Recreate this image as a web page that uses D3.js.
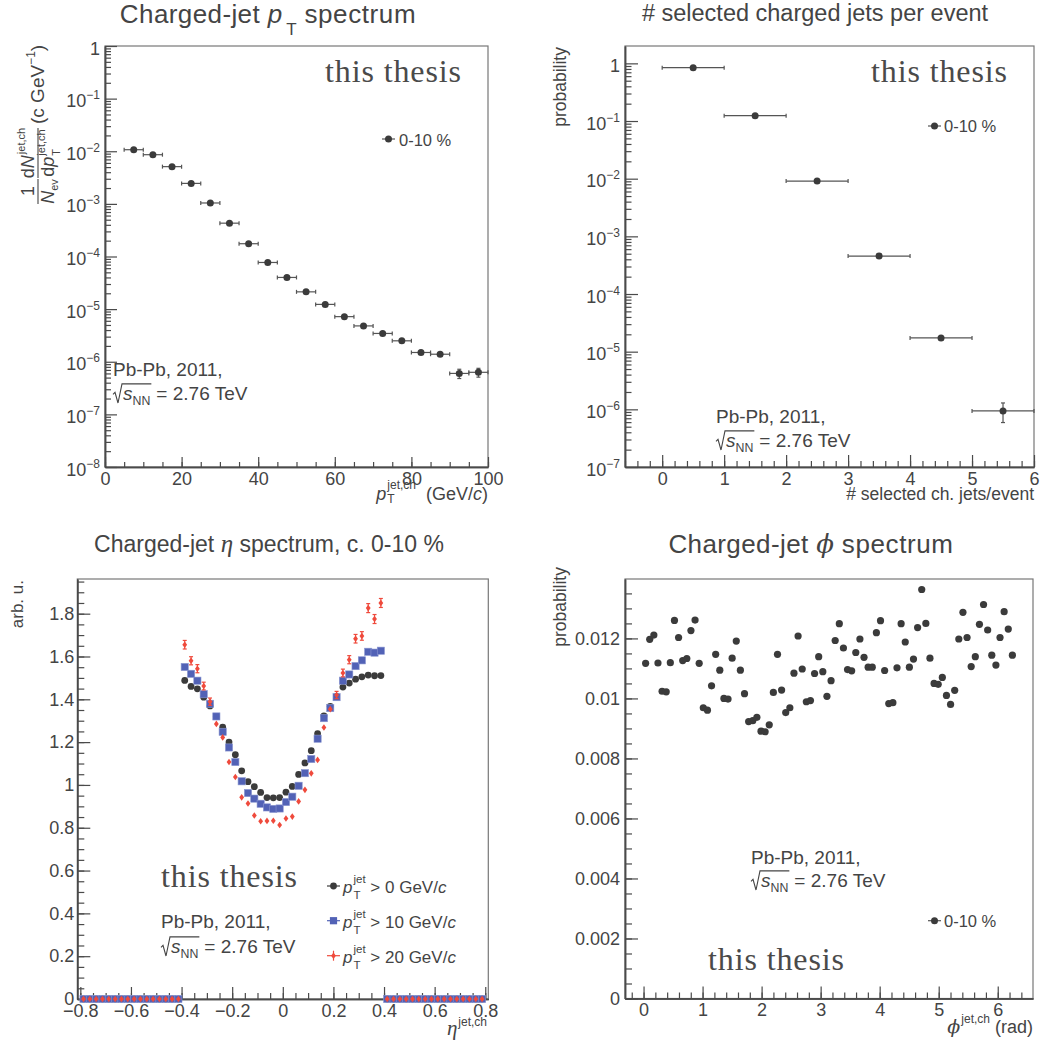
<!DOCTYPE html>
<html><head><meta charset="utf-8">
<script src="https://cdn.jsdelivr.net/npm/d3@7"></script>
<style>
body{margin:0;background:#fff;}
svg text{font-family:"Liberation Sans",Arial,sans-serif;fill:#444;white-space:pre;}
</style></head><body>
<svg id="c" width="1045" height="1045"></svg>
<script>
// ---------------- DATA ----------------
// Panel 1: charged-jet pT spectrum (0-10 %)
const ptBinCenters = [7.5,12.5,17.5,22.5,27.5,32.5,37.5,42.5,47.5,52.5,57.5,62.5,67.5,72.5,77.5,82.5,87.5,92.5,97.5];
const ptBinHalfWidth = 2.5;
const ptValues = [1.07e-2,8.6e-3,5.1e-3,2.45e-3,1.04e-3,4.3e-4,1.75e-4,7.7e-5,4.0e-5,2.13e-5,1.23e-5,7.2e-6,4.8e-6,3.45e-6,2.5e-6,1.5e-6,1.39e-6,6.0e-7,6.3e-7];
const ptErrors = [1e-4,8e-5,5e-5,3e-5,1.5e-5,7e-6,3.5e-6,1.8e-6,1.1e-6,7e-7,5e-7,3.6e-7,2.9e-7,2.4e-7,2e-7,1.6e-7,1.5e-7,1.2e-7,1.2e-7];

// Panel 2: number of selected charged jets per event
const nJetCenters = [0.5,1.5,2.5,3.5,4.5,5.5];
const nJetHalfWidth = 0.5;
const nJetProb = [0.84,0.124,9.1e-3,4.55e-4,1.73e-5,9.4e-7];
const nJetErrors = [2e-4,8e-5,2e-5,4e-6,7e-7,3.5e-7];

// Panel 3: charged-jet eta spectrum, 64 bins of 0.025 from -0.8 to 0.8
const etaLow = -0.8, etaBinWidth = 0.025;
const etaPt0 = [0,0,0,0,0,0,0,0,0,0,0,0,0,0,0,0,
 1.488,1.460,1.449,1.410,1.369,1.320,1.270,1.200,1.141,1.066,1.015,0.992,0.965,0.941,0.940,0.941,
 0.966,0.993,1.049,1.103,1.160,1.239,1.323,1.367,1.413,1.457,1.476,1.494,1.505,1.513,1.510,1.511,
 0,0,0,0,0,0,0,0,0,0,0,0,0,0,0,0];
const etaPt10 = [0,0,0,0,0,0,0,0,0,0,0,0,0,0,0,0,
 1.551,1.519,1.487,1.424,1.379,1.320,1.248,1.175,1.107,1.017,0.962,0.936,0.912,0.895,0.888,0.890,
 0.920,0.945,0.996,1.055,1.121,1.216,1.312,1.359,1.410,1.487,1.516,1.555,1.582,1.622,1.618,1.627,
 0,0,0,0,0,0,0,0,0,0,0,0,0,0,0,0];
const etaPt20 = [0,0,0,0,0,0,0,0,0,0,0,0,0,0,0,0,
 1.655,1.580,1.543,1.462,1.389,1.285,1.222,1.107,1.037,0.942,0.913,0.857,0.830,0.832,0.833,0.813,
 0.843,0.852,0.923,0.977,1.054,1.117,1.268,1.354,1.420,1.523,1.585,1.683,1.696,1.826,1.775,1.850,
 0,0,0,0,0,0,0,0,0,0,0,0,0,0,0,0];
const etaPt20Err = [0,0,0,0,0,0,0,0,0,0,0,0,0,0,0,0,
 0.020,0.019,0.019,0.018,0.017,0.016,0.015,0.014,0.013,0.012,0.012,0.011,0.011,0.011,0.011,0.011,
 0.011,0.011,0.012,0.012,0.013,0.014,0.015,0.016,0.017,0.018,0.019,0.020,0.020,0.021,0.021,0.021,
 0,0,0,0,0,0,0,0,0,0,0,0,0,0,0,0];
const etaLegend = ["0","10","20"];

// Panel 4: charged-jet phi spectrum, 90 bins over 2*pi
const phiNBins = 90;
const phiProb = [0.01117,0.01197,0.01211,0.01118,0.01024,0.01022,0.01119,0.01260,0.01203,0.01126,
 0.01133,0.01226,0.01261,0.01117,0.00969,0.00961,0.01042,0.01147,0.01094,0.01000,
 0.00998,0.01134,0.01191,0.01094,0.01016,0.00923,0.00926,0.00937,0.00891,0.00889,
 0.00912,0.01020,0.01147,0.01028,0.00953,0.00969,0.01084,0.01208,0.01098,0.00989,
 0.00993,0.01083,0.01139,0.01089,0.01007,0.01059,0.01193,0.01249,0.01168,0.01096,
 0.01092,0.01153,0.01198,0.01137,0.01104,0.01104,0.01219,0.01259,0.01093,0.00983,
 0.00986,0.01102,0.01249,0.01188,0.01104,0.01131,0.01236,0.01363,0.01250,0.01134,
 0.01050,0.01047,0.01070,0.01010,0.00980,0.01027,0.01198,0.01287,0.01203,0.01106,
 0.01139,0.01247,0.01313,0.01228,0.01144,0.01111,0.01203,0.01289,0.01231,0.01144];

// ---------------- DRAWING ----------------
const svg = d3.select('#c');
const TXT = '#444', AX = '#4a4a4a', MK = '#3b3b3b', BLUE = '#5262b6', RED = '#ef4a3c';

function rich(parent, x, y, parts, anchor){
  const g = parent.append('g');
  let cx = 0, lastStart = 0;
  for (const p of parts){
    const t = g.append('text').attr('y', p.dy||0).style('font-size', (p.size||18)+'px').text(p.t);
    if (p.italic) t.style('font-style','italic');
    if (p.family) t.style('font-family', p.family);
    if (p.ls) t.style('letter-spacing', p.ls+'px');
    const sx = (p.stack ? lastStart : cx) + (p.dx||0);
    t.attr('x', sx);
    const w = t.node().getComputedTextLength();
    if (p.stack) cx = Math.max(cx, sx + w); else { lastStart = sx; cx = sx + w; }
  }
  const off = anchor==='end' ? -cx : anchor==='middle' ? -cx/2 : 0;
  g.attr('transform', `translate(${x+off},${y})`);
  return g;
}
function styleAxis(sel, fs){
  sel.attr('font-family', null).attr('font-size', null);
  sel.select('.domain').attr('stroke', AX).attr('stroke-width', 1.5);
  sel.selectAll('.tick line').attr('stroke', AX).attr('stroke-width', 1.2);
  sel.selectAll('.tick text').style('font-size', (fs||18)+'px');
}
function frame(x0,y0,x1,y1){
  svg.append('rect').attr('x',x0).attr('y',y0).attr('width',x1-x0).attr('height',y1-y0)
    .attr('fill','none').attr('stroke','#777').attr('stroke-width',1.2);
}
function axisPair(axisFn, scale, pos, majors, minors, majLen, minLen, fmt, pad){
  const isLeft = axisFn === d3.axisLeft;
  const tr = isLeft ? `translate(${pos},0)` : `translate(0,${pos})`;
  svg.append('g').attr('transform', tr)
    .call(axisFn(scale).tickValues(minors).tickSizeInner(-minLen).tickSizeOuter(0).tickFormat(''))
    .call(styleAxis);
  const g = svg.append('g').attr('transform', tr)
    .call(axisFn(scale).tickValues(majors).tickSizeInner(-majLen).tickSizeOuter(0).tickPadding(pad).tickFormat(fmt))
    .call(styleAxis);
  return g;
}
function logLabels(g){
  g.selectAll('.tick text').each(function(d){
    const k = Math.round(Math.log10(d));
    const t = d3.select(this).text(null).attr('dy','0.45em');
    if (k === 0) { t.text('1'); return; }
    t.append('tspan').text('10');
    t.append('tspan').attr('dy', -8).style('font-size','12px').text('\u2212' + (-k));
  });
}
function thesis(xRight, yBase){
  svg.append('text').attr('x', xRight-136).attr('y', yBase)
    .attr('textLength', 136).attr('lengthAdjust','spacing')
    .style('font-family','"Liberation Serif","Times New Roman",serif')
    .style('font-size','32px').style('fill','#4a4a4a').text('this thesis');
}
function collision(x, yb1, yb2, fs){
  svg.append('text').attr('x', x).attr('y', yb1).style('font-size', fs+'px').text('Pb-Pb, 2011,');
  const sx = x + 10;
  const s = svg.append('text').attr('x', sx).attr('y', yb2).style('font-size', fs+'px');
  s.append('tspan').style('font-style','italic').text('s');
  s.append('tspan').attr('dy', 5).style('font-size', (fs*0.65)+'px').text('NN');
  const w = s.node().getComputedTextLength();
  const top = yb2 - fs*0.85;
  svg.append('path')
    .attr('d', `M${x},${yb2-fs*0.3} L${x+2},${yb2-fs*0.4} L${x+5},${yb2+3} L${x+9},${top} L${sx+w+1},${top}`)
    .attr('fill','none').attr('stroke', TXT).attr('stroke-width', 1.1);
  svg.append('text').attr('x', sx+w+6).attr('y', yb2).style('font-size', fs+'px').text('= 2.76 TeV');
}
function errbars(g, pts, color){
  const cap = 2;
  pts.forEach(p => {
    if (p.x0 !== undefined){
      g.append('line').attr('x1',p.x0).attr('x2',p.x1).attr('y1',p.y).attr('y2',p.y);
      g.append('line').attr('x1',p.x0).attr('x2',p.x0).attr('y1',p.y-cap).attr('y2',p.y+cap);
      g.append('line').attr('x1',p.x1).attr('x2',p.x1).attr('y1',p.y-cap).attr('y2',p.y+cap);
    }
    if (p.y0 !== undefined && Math.abs(p.y0-p.y1) > 7){
      g.append('line').attr('x1',p.x).attr('x2',p.x).attr('y1',p.y0).attr('y2',p.y1);
      g.append('line').attr('x1',p.x-cap).attr('x2',p.x+cap).attr('y1',p.y0).attr('y2',p.y0);
      g.append('line').attr('x1',p.x-cap).attr('x2',p.x+cap).attr('y1',p.y1).attr('y2',p.y1);
    }
  });
  g.attr('stroke', color).attr('stroke-width', 1.2);
}
const lg = (a,b)=>{const out=[];for(let k=a;k<b;k++)for(let m=2;m<=9;m++)out.push(m*Math.pow(10,k));return out;};

// ===== Panel 1 =====
{
  const x = d3.scaleLinear().domain([0,100]).range([105,488]);
  const y = d3.scaleLog().domain([1e-8,1]).range([467,46]);
  frame(105,46,488,467);
  axisPair(d3.axisBottom, x, 467, d3.range(0,101,20), d3.range(0,101,5), 10, 5, d3.format('d'), 5);
  const ya = axisPair(d3.axisLeft, y, 105, d3.range(-8,1).map(k=>Math.pow(10,k)), lg(-8,0), 12, 6, d=>d, 5);
  logLabels(ya);
  errbars(svg.append('g'), ptBinCenters.map((c,i)=>({x0:x(c-ptBinHalfWidth),x1:x(c+ptBinHalfWidth),x:x(c),y:y(ptValues[i]),
     y0:y(ptValues[i]-ptErrors[i]),y1:y(ptValues[i]+ptErrors[i])})), '#555');
  svg.append('g').selectAll('circle').data(ptBinCenters).join('circle')
    .attr('cx',d=>x(d)).attr('cy',(d,i)=>y(ptValues[i])).attr('r',3.5).attr('fill',MK);
  rich(svg, 268, 23, [{t:'Charged-jet ',size:26,ls:0.4},{t:'p',size:26,italic:true},{t:'T',size:17,dy:12,dx:4},{t:' spectrum',size:26,ls:0.6}], 'middle');
  rich(svg, 488, 500, [{t:'p',italic:true},{t:'jet,ch',size:12,dy:-11,dx:1},{t:'T',size:12,dy:3,stack:true},{t:'  (GeV/'},{t:'c',italic:true},{t:')'}], 'end');
  // y title
  const yt = svg.append('g').attr('transform','translate(38,240) rotate(-90)');
  yt.append('text').attr('x',49).attr('y',-4).attr('text-anchor','middle').style('font-size','18px').text('1');
  yt.append('line').attr('x1',36).attr('x2',61).attr('y1',0).attr('y2',0).attr('stroke',TXT).attr('stroke-width',1.1);
  rich(yt, 48.5, 16, [{t:'N',italic:true,size:18},{t:'ev',size:11,dy:4}], 'middle');
  rich(yt, 87, -4, [{t:'d'},{t:'N',italic:true},{t:'jet,ch',size:11,dy:-9,dx:1}], 'middle');
  yt.append('line').attr('x1',62).attr('x2',112).attr('y1',0).attr('y2',0).attr('stroke',TXT).attr('stroke-width',1.1);
  rich(yt, 87, 16, [{t:'d'},{t:'p',italic:true},{t:'jet,ch',size:11,dy:-9,dx:1},{t:'T',size:11,dy:6,stack:true}], 'middle');
  rich(yt, 116, 6, [{t:'(c GeV',size:19},{t:'\u22121',size:12,dy:-9},{t:')',size:19}], 'start');
  // legend
  svg.append('line').attr('x1',382).attr('x2',395).attr('y1',139).attr('y2',139).attr('stroke','#555').attr('stroke-width',1.2);
  svg.append('circle').attr('cx',388.5).attr('cy',139).attr('r',3.5).attr('fill',MK);
  svg.append('text').attr('x',399).attr('y',145.5).style('font-size','16.5px').text('0-10 %');
  thesis(461, 82);
  collision(113, 376, 400, 19);
}

// ===== Panel 2 =====
{
  const x = d3.scaleLinear().domain([-0.6,6]).range([625,1034]);
  const y = d3.scaleLog().domain([1e-7,2]).range([467,46]);
  frame(625,46,1034,467);
  axisPair(d3.axisBottom, x, 467, d3.range(0,7), d3.range(-3,31).map(k=>k/5), 12, 6, d3.format('d'), 5);
  const ya = axisPair(d3.axisLeft, y, 625, d3.range(-7,1).map(k=>Math.pow(10,k)), lg(-7,0), 13, 6.5, d=>d, 5);
  logLabels(ya);
  errbars(svg.append('g'), nJetCenters.map((c,i)=>({x0:x(c-nJetHalfWidth),x1:x(c+nJetHalfWidth),x:x(c),y:y(nJetProb[i]),
     y0:y(nJetProb[i]-nJetErrors[i]),y1:y(nJetProb[i]+nJetErrors[i])})), '#555');
  svg.append('g').selectAll('circle').data(nJetCenters).join('circle')
    .attr('cx',d=>x(d)).attr('cy',(d,i)=>y(nJetProb[i])).attr('r',3.5).attr('fill',MK);
  rich(svg, 815, 21, [{t:'# selected charged jets per event',size:23.5}], 'middle');
  rich(svg, 1034, 500, [{t:'# selected ch. jets/event',size:17.5}], 'end');
  svg.append('text').attr('transform','translate(566,47) rotate(-90)').attr('text-anchor','end').style('font-size','17.5px').text('probability');
  svg.append('line').attr('x1',928).attr('x2',941).attr('y1',126).attr('y2',126).attr('stroke','#555').attr('stroke-width',1.2);
  svg.append('circle').attr('cx',934.5).attr('cy',126).attr('r',3.5).attr('fill',MK);
  svg.append('text').attr('x',944).attr('y',132).style('font-size','16.5px').text('0-10 %');
  thesis(1007, 82);
  collision(716, 423, 447, 19);
}

// ===== Panel 3 =====
{
  const x = d3.scaleLinear().domain([-0.812,0.812]).range([77.3,488.3]);
  const y = d3.scaleLinear().domain([0,1.962]).range([999,579]);
  frame(77.3,579,488.3,999);
  const fx = v => Math.abs(v) < 1e-9 ? '0' : (v<0?'\u2212':'') + Math.abs(v).toFixed(1);
  axisPair(d3.axisBottom, x, 999, d3.range(-4,5).map(k=>k/5), d3.range(-16,17).map(k=>k/20), 12, 6, fx, 5);
  axisPair(d3.axisLeft, y, 77.3, d3.range(0,10).map(k=>k/5), d3.range(0,40).map(k=>k/20), 13, 7,
     v => Math.abs(v) < 1e-9 ? '0' : String(+v.toFixed(1)), 3);
  const centers = etaPt0.map((_,i)=> etaLow + etaBinWidth*(i+0.5));
  svg.append('g').selectAll('circle').data(centers).join('circle')
    .attr('cx',d=>x(d)).attr('cy',(d,i)=>y(etaPt0[i])).attr('r',3.4).attr('fill',MK);
  svg.append('g').selectAll('rect').data(centers).join('rect')
    .attr('x',d=>x(d)-3.6).attr('y',(d,i)=>y(etaPt10[i])-3.6).attr('width',7.2).attr('height',7.2)
    .attr('fill',BLUE).attr('stroke','#8a96d0').attr('stroke-width',0.6);
  errbars(svg.append('g'), centers.map((c,i)=>({x:x(c),y:y(etaPt20[i]),y0:y(etaPt20[i]-etaPt20Err[i]),y1:y(etaPt20[i]+etaPt20Err[i])})), RED);
  const diamond = 'M0,-3.3 L2.4,0 L0,3.3 L-2.4,0Z';
  svg.append('g').selectAll('path').data(centers).join('path')
    .attr('d', diamond).attr('transform',(d,i)=>`translate(${x(d)},${y(etaPt20[i])})`).attr('fill',RED);
  rich(svg, 269, 552, [{t:'Charged-jet ',size:23},{t:'\u03b7',size:25,italic:true,family:'"Liberation Serif",serif'},{t:' spectrum, c. 0-10 %',size:23}], 'middle');
  rich(svg, 487, 1035, [{t:'\u03b7',size:21,italic:true,family:'"Liberation Serif",serif'},{t:'jet,ch',size:12,dy:-9,dx:1}], 'end');
  svg.append('text').attr('transform','translate(23,580) rotate(-90)').attr('text-anchor','end').style('font-size','17px').text('arb. u.');
  // legend
  const legY = [886, 920.7, 955.7];
  legY.forEach((ly,i)=>{
    svg.append('line').attr('x1',327).attr('x2',340).attr('y1',ly).attr('y2',ly)
      .attr('stroke',[MK,BLUE,RED][i]).attr('stroke-width',1.2);
    if (i===0) svg.append('circle').attr('cx',333.5).attr('cy',ly).attr('r',3.4).attr('fill',MK);
    if (i===1) svg.append('rect').attr('x',329.9).attr('y',ly-3.6).attr('width',7.2).attr('height',7.2).attr('fill',BLUE);
    if (i===2) {
      svg.append('line').attr('x1',333.5).attr('x2',333.5).attr('y1',ly-5).attr('y2',ly+5).attr('stroke',RED).attr('stroke-width',1.2);
      svg.append('path').attr('d',diamond).attr('transform',`translate(333.5,${ly})`).attr('fill',RED);
    }
    rich(svg, 343, ly+7, [{t:'p',italic:true,size:17},{t:'jet',size:11.5,dy:-10,dx:1},{t:'T',size:11.5,dy:6,stack:true},
       {t:' > '+etaLegend[i]+' GeV/',size:17},{t:'c',italic:true,size:17}], 'start');
  });
  thesis(297, 887);
  collision(161, 928, 953, 19);
}

// ===== Panel 4 =====
{
  const x = d3.scaleLinear().domain([-0.1*Math.PI, 2.1*Math.PI]).range([625,1033]);
  const y = d3.scaleLinear().domain([0,0.01398]).range([998.5,579]);
  frame(625,579,1033,998.5);
  axisPair(d3.axisBottom, x, 998.5, d3.range(0,7), d3.range(-1,33).map(k=>k/5), 12, 6, d3.format('d'), 5);
  axisPair(d3.axisLeft, y, 625, d3.range(0,7).map(k=>k*0.002), d3.range(0,28).map(k=>k*0.0005), 13, 7,
     v => v===0 ? '0' : String(+v.toFixed(3)), 5);
  const w = 2*Math.PI/phiNBins;
  svg.append('g').selectAll('circle').data(phiProb).join('circle')
    .attr('cx',(d,i)=>x((i+0.5)*w)).attr('cy',d=>y(d)).attr('r',3.6).attr('fill',MK);
  rich(svg, 811, 553, [{t:'Charged-jet ',size:26,ls:0.4},{t:'\u03d5',size:26,italic:true,family:'"DejaVu Serif",serif'},{t:' spectrum',size:26,ls:0.6}], 'middle');
  rich(svg, 1033, 1033, [{t:'\u03d5',size:19,italic:true,family:'"DejaVu Serif",serif'},{t:'jet,ch',size:12,dy:-10,dx:1},{t:' (rad)',size:18}], 'end');
  svg.append('text').attr('transform','translate(566,567) rotate(-90)').attr('text-anchor','end').style('font-size','17.5px').text('probability');
  svg.append('line').attr('x1',928).attr('x2',941).attr('y1',920.7).attr('y2',920.7).attr('stroke','#555').attr('stroke-width',1.2);
  svg.append('circle').attr('cx',934.5).attr('cy',920.7).attr('r',3.5).attr('fill',MK);
  svg.append('text').attr('x',944).attr('y',927).style('font-size','16.5px').text('0-10 %');
  thesis(844, 970);
  collision(751, 864, 887, 19);
}
</script>
</body></html>
